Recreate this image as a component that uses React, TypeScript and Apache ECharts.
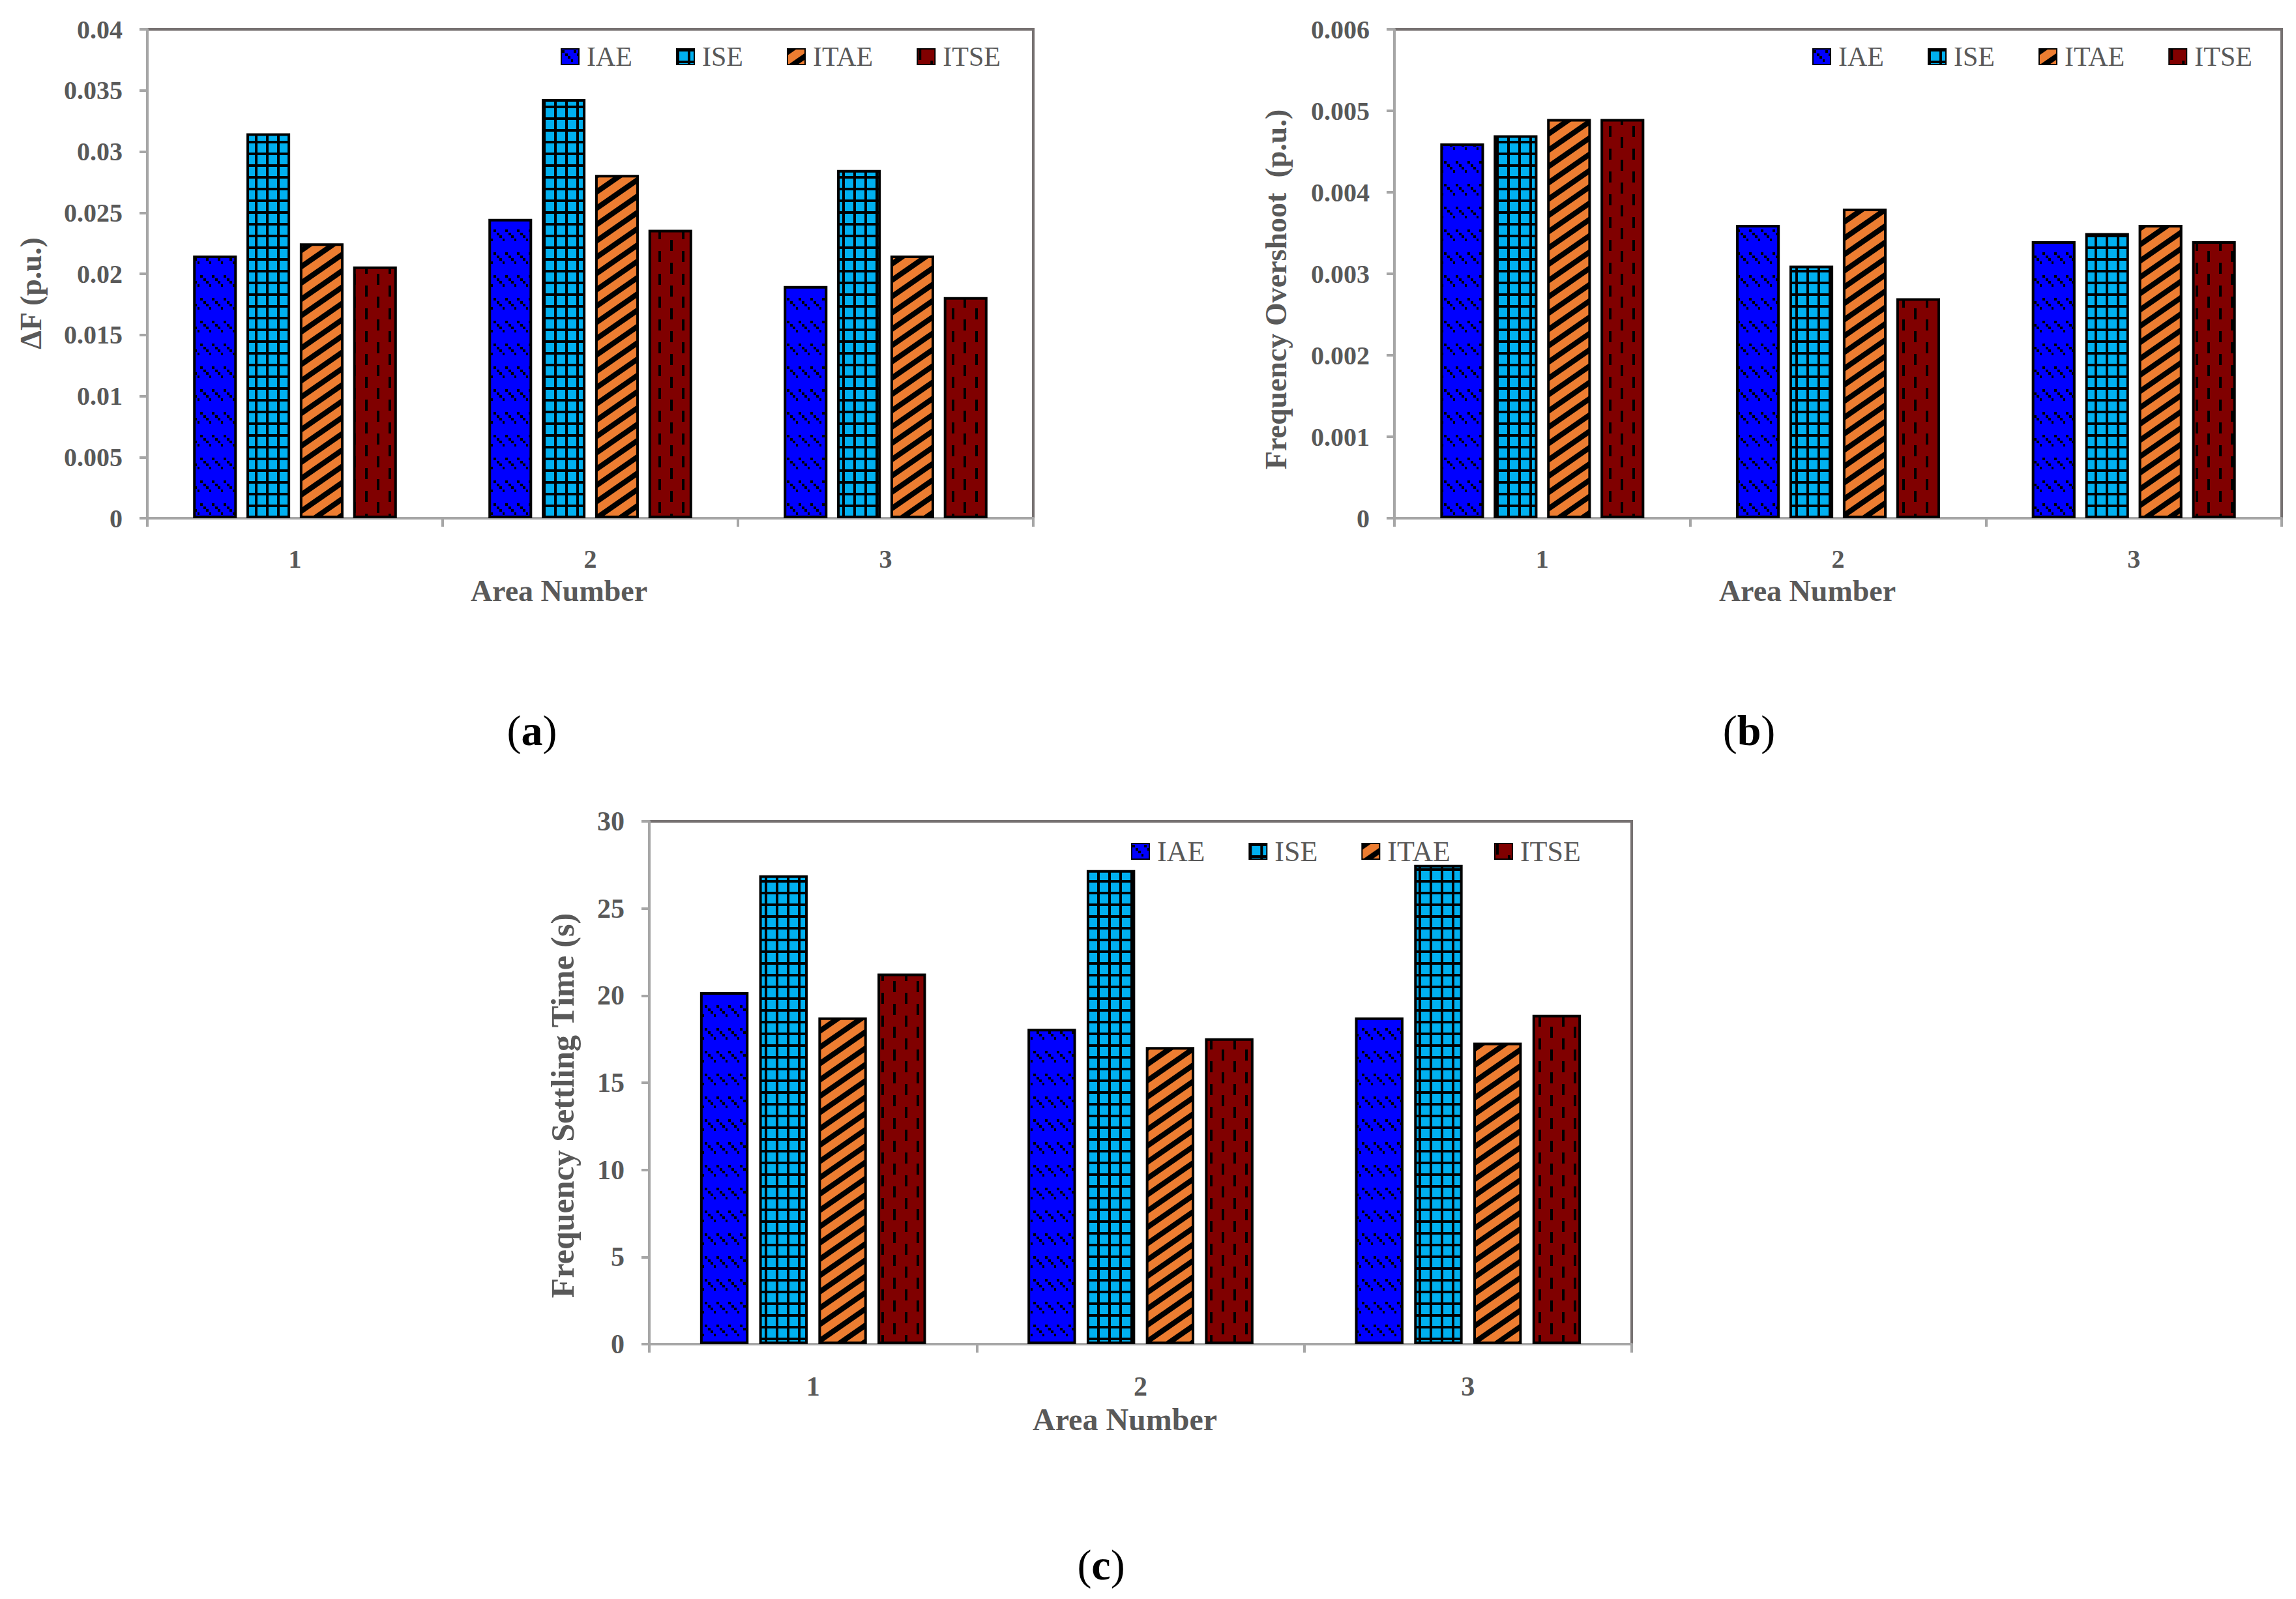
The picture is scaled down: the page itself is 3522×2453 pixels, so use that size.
import React, { useEffect, useRef } from "react";
import * as echarts from "echarts";

const categories = ["1", "2", "3"];
const methods = ["IAE", "ISE", "ITAE", "ITSE"];

// Panel (a): ΔF (p.u.)
const deltaF_IAE = [0.0215, 0.0245, 0.019];
const deltaF_ISE = [0.0315, 0.0343, 0.0285];
const deltaF_ITAE = [0.0225, 0.0281, 0.0215];
const deltaF_ITSE = [0.0206, 0.0236, 0.0181];

// Panel (b): Frequency Overshoot (p.u.)
const overshoot_IAE = [0.0046, 0.0036, 0.0034];
const overshoot_ISE = [0.0047, 0.0031, 0.0035];
const overshoot_ITAE = [0.0049, 0.0038, 0.0036];
const overshoot_ITSE = [0.0049, 0.0027, 0.0034];

// Panel (c): Frequency Settling Time (s)
const settling_IAE = [20.2, 18.1, 18.75];
const settling_ISE = [26.9, 27.2, 27.5];
const settling_ITAE = [18.75, 17.05, 17.3];
const settling_ITSE = [21.27, 17.55, 18.9];

const yTitles = ["ΔF (p.u.)", "Frequency Overshoot  (p.u.)", "Frequency Settling Time (s)"];
const xTitle = "Area Number";
const captions = ["a", "b", "c"];

const FONT = "'Liberation Serif', 'Times New Roman', serif";
const TEXT_GRAY = "#595959";
const AXIS_GRAY = "#a6a6a6";
const BORDER_GRAY = "#767171";

function tile(w: number, h: number, draw: (ctx: CanvasRenderingContext2D) => void) {
  const c = document.createElement("canvas");
  c.width = w;
  c.height = h;
  const ctx = c.getContext("2d") as CanvasRenderingContext2D;
  draw(ctx);
  return { image: c.toDataURL(), repeat: "repeat", imageWidth: w, imageHeight: h };
}

function makePatterns() {
  const iae = tile(18, 35, (ctx) => {
    ctx.fillStyle = "#0000ff";
    ctx.fillRect(0, 0, 18, 35);
    ctx.fillStyle = "#000";
    [0, 1, 2, 3].forEach((k) => ctx.fillRect(1 + Math.round(k * 4.5), 2 + Math.round(k * 4.5), 4, 4));
  });
  const ise = tile(17, 18, (ctx) => {
    ctx.fillStyle = "#000";
    ctx.fillRect(0, 0, 17, 18);
    ctx.fillStyle = "#00b0f0";
    ctx.fillRect(4, 4, 13, 14);
  });
  const itae = tile(36, 25, (ctx) => {
    ctx.fillStyle = "#ed7d31";
    ctx.fillRect(0, 0, 36, 25);
    ctx.fillStyle = "#000";
    [-50, -25, 0, 25, 50].forEach((c) => {
      ctx.beginPath();
      ctx.moveTo(0, c + 25);
      ctx.lineTo(36, c);
      ctx.lineTo(36, c + 10);
      ctx.lineTo(0, c + 35);
      ctx.closePath();
      ctx.fill();
    });
  });
  const itse = tile(36, 35, (ctx) => {
    ctx.fillStyle = "#800000";
    ctx.fillRect(0, 0, 36, 35);
    ctx.fillStyle = "#000";
    ctx.fillRect(2, 0, 4, 17);
    ctx.fillRect(20, 18, 4, 17);
  });
  return [iae, ise, itae, itse];
}

export default function App() {
  const ref = useRef<HTMLDivElement>(null);

  useEffect(() => {
    if (!ref.current) return;
    const chart = echarts.init(ref.current, undefined, { renderer: "svg" });
    const patterns = makePatterns();

    const panels = [
      {
        data: [deltaF_IAE, deltaF_ISE, deltaF_ITAE, deltaF_ITSE],
        grid: { left: 226, top: 45, width: 1359, height: 750 },
        max: 0.04, interval: 0.005, fs: 40, legendFs: 42,
        legendLeft: 855, legendTop: 61,
        labelMargin: 42, nameGap: 88, nameFs: 46, nameShift: 96,
        yTitle: { x: 47, y: 450, fs: 46 },
        caption: { x: 816, y: 1120 },
      },
      {
        data: [overshoot_IAE, overshoot_ISE, overshoot_ITAE, overshoot_ITSE],
        grid: { left: 2139, top: 45, width: 1361, height: 750 },
        max: 0.006, interval: 0.001, fs: 40, legendFs: 42,
        legendLeft: 2775, legendTop: 61,
        labelMargin: 42, nameGap: 88, nameFs: 46, nameShift: 94,
        yTitle: { x: 1957, y: 444, fs: 46 },
        caption: { x: 2683, y: 1120 },
      },
      {
        data: [settling_IAE, settling_ISE, settling_ITAE, settling_ITSE],
        grid: { left: 996, top: 1260, width: 1507, height: 802 },
        max: 30, interval: 5, fs: 42, legendFs: 44,
        legendLeft: 1730, legendTop: 1279,
        labelMargin: 44, nameGap: 91, nameFs: 48, nameShift: 48,
        yTitle: { x: 863, y: 1696, fs: 50 },
        caption: { x: 1689, y: 2400 },
      },
    ];

    const grids = panels.map((p) => ({
      ...p.grid,
      show: true,
      borderColor: BORDER_GRAY,
      borderWidth: 4,
      backgroundColor: "transparent",
      containLabel: false,
    }));

    const xAxes = panels.map((p, i) => ({
      type: "category",
      gridIndex: i,
      data: categories,
      axisLine: { show: true, lineStyle: { color: AXIS_GRAY, width: 4 } },
      axisTick: { show: true, length: 13, lineStyle: { color: AXIS_GRAY, width: 4 } },
      axisLabel: {
        margin: p.labelMargin,
        fontFamily: FONT,
        fontSize: p.fs,
        fontWeight: "bold",
        color: TEXT_GRAY,
      },
      name: xTitle,
      nameLocation: "middle",
      nameGap: p.nameGap,
      nameTextStyle: {
        fontFamily: FONT,
        fontSize: p.nameFs,
        fontWeight: "bold",
        color: TEXT_GRAY,
        padding: [0, p.nameShift, 0, 0],
      },
      splitLine: { show: false },
    }));

    const yAxes = panels.map((p, i) => ({
      type: "value",
      gridIndex: i,
      min: 0,
      max: p.max,
      interval: p.interval,
      axisLine: { show: true, lineStyle: { color: AXIS_GRAY, width: 4 } },
      axisTick: { show: true, length: 12, lineStyle: { color: AXIS_GRAY, width: 4 } },
      axisLabel: {
        margin: 38,
        fontFamily: FONT,
        fontSize: p.fs,
        fontWeight: "bold",
        color: TEXT_GRAY,
      },
      splitLine: { show: false },
    }));

    const series: any[] = [];
    panels.forEach((p, i) => {
      methods.forEach((m, k) => {
        series.push({
          type: "bar",
          name: m,
          xAxisIndex: i,
          yAxisIndex: i,
          data: p.data[k],
          barGap: "22%",
          barCategoryGap: "31%",
          itemStyle: { color: patterns[k], borderColor: "#000", borderWidth: 4 },
          emphasis: { disabled: true },
        });
      });
    });

    const legends = panels.map((p) => ({
      left: p.legendLeft,
      top: p.legendTop,
      orient: "horizontal",
      icon: "rect",
      itemWidth: 27,
      itemHeight: 24,
      itemGap: 67,
      selectedMode: false,
      textStyle: {
        fontFamily: FONT,
        fontSize: p.legendFs,
        color: TEXT_GRAY,
        padding: [0, 0, 0, 7],
      },
      data: methods,
    }));

    const graphics: any[] = [];
    panels.forEach((p, i) => {
      graphics.push({
        type: "text",
        x: p.yTitle.x,
        y: p.yTitle.y,
        rotation: Math.PI / 2,
        style: {
          text: yTitles[i],
          fontFamily: FONT,
          fontSize: p.yTitle.fs,
          fontWeight: "bold",
          fill: TEXT_GRAY,
          textAlign: "center",
          textVerticalAlign: "middle",
        },
      });
      graphics.push({
        type: "text",
        x: p.caption.x,
        y: p.caption.y,
        style: {
          text: "{p|(}{b|" + captions[i] + "}{p|)}",
          textAlign: "center",
          textVerticalAlign: "middle",
          rich: {
            p: { fontFamily: FONT, fontSize: 66, fontWeight: "normal", fill: "#000", color: "#000" },
            b: { fontFamily: FONT, fontSize: 66, fontWeight: "bold", fill: "#000", color: "#000" },
          },
        },
      });
    });

    chart.setOption({
      animation: false,
      backgroundColor: "#ffffff",
      grid: grids,
      xAxis: xAxes,
      yAxis: yAxes,
      legend: legends,
      series,
      graphic: graphics,
    });

    return () => chart.dispose();
  }, []);

  return (
    <div
      ref={ref}
      style={{ position: "absolute", left: 0, top: 0, width: 3522, height: 2453, background: "#fff" }}
    />
  );
}
